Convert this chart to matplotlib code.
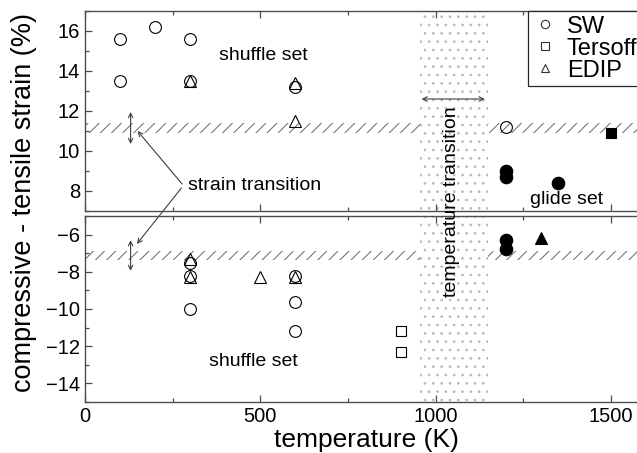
import matplotlib
matplotlib.use('Agg')
import matplotlib.pyplot as plt
from matplotlib.ticker import MultipleLocator
from matplotlib.lines import Line2D

plt.rcParams['font.family'] = ['Liberation Sans', 'DejaVu Sans']
plt.rcParams['hatch.linewidth'] = 0.7

# tensile strain (upper panel)
sw_shuf_T = [100, 100, 200, 300, 300, 600, 1200]
sw_shuf_ten = [15.6, 13.5, 16.2, 15.6, 13.5, 13.2, 11.2]
edip_shuf_T = [300, 600, 600]
edip_shuf_ten = [13.5, 13.4, 11.5]
sw_glide_T = [1200, 1200, 1350]
sw_glide_ten = [9.0, 8.7, 8.4]
ters_glide_T = [1500]
ters_glide_ten = [10.9]

# compressive strain (lower panel)
sw_shuf_Tc = [300, 300, 300, 600, 600, 600]
sw_shuf_com = [-7.5, -8.2, -10.0, -8.2, -9.6, -11.2]
edip_shuf_Tc = [300, 300, 500, 600]
edip_shuf_com = [-7.3, -8.3, -8.3, -8.3]
ters_shuf_Tc = [900, 900]
ters_shuf_com = [-11.2, -12.3]
sw_glide_Tc = [1200, 1200]
sw_glide_com = [-6.3, -6.8]
edip_glide_Tc = [1300]
edip_glide_com = [-6.2]

# transition bands
ten_band = (10.9, 11.4)
com_band = (-7.35, -6.9)
temp_band = (955, 1150)

W, H = 637, 453
fig = plt.figure(figsize=(W / 100, H / 100), dpi=100)
ax1 = fig.add_axes([85 / W, (H - 211) / H, 561 / W, 200 / H])
ax2 = fig.add_axes([85 / W, (H - 402) / H, 561 / W, 186 / H])

spine_col = '0.3'
for ax in (ax1, ax2):
    ax.patch.set_visible(False)
    ax.set_xlim(0, 1600)
    ax.xaxis.set_major_locator(MultipleLocator(500))
    ax.xaxis.set_minor_locator(MultipleLocator(250))
    ax.yaxis.set_major_locator(MultipleLocator(2))
    ax.yaxis.set_minor_locator(MultipleLocator(1))
    ax.tick_params(which='both', direction='in', top=True, right=True,
                   colors=spine_col, labelcolor='black', labelsize=14.5, width=0.9)
    ax.tick_params(which='major', length=5)
    ax.tick_params(which='minor', length=3)
    for s in ax.spines.values():
        s.set_color(spine_col)
        s.set_linewidth(1.0)
    # temperature transition band (stippled)
    ax.axvspan(*temp_band, facecolor='none', edgecolor='0.72', hatch='..', lw=0, zorder=0)

ax1.set_ylim(7, 17)
ax2.set_ylim(-15, -5)
ax1.tick_params(labelbottom=False)

# strain transition bands (hatched), interrupted by the temperature band
for ax, band in ((ax1, ten_band), (ax2, com_band)):
    ax.fill_between([0, temp_band[0]], band[0], band[1], facecolor='none',
                    edgecolor='0.4', hatch='///', lw=0, zorder=0)
    ax.fill_between([temp_band[1], 1600], band[0], band[1], facecolor='none',
                    edgecolor='0.4', hatch='///', lw=0, zorder=0)

mk = dict(ls='none', mec='black', mew=0.8, zorder=3)
ax1.plot(sw_shuf_T, sw_shuf_ten, 'o', ms=8.5, mfc='none', **mk)
ax1.plot(edip_shuf_T, edip_shuf_ten, '^', ms=8, mfc='none', **mk)
ax1.plot(sw_glide_T, sw_glide_ten, 'o', ms=9, mfc='black', **mk)
ax1.plot(ters_glide_T, ters_glide_ten, 's', ms=7.5, mfc='black', **mk)

ax2.plot(sw_shuf_Tc, sw_shuf_com, 'o', ms=8.5, mfc='none', **mk)
ax2.plot(edip_shuf_Tc, edip_shuf_com, '^', ms=8, mfc='none', **mk)
ax2.plot(ters_shuf_Tc, ters_shuf_com, 's', ms=7.5, mfc='none', **mk)
ax2.plot(sw_glide_Tc, sw_glide_com, 'o', ms=9, mfc='black', **mk)
ax2.plot(edip_glide_Tc, edip_glide_com, '^', ms=9, mfc='black', **mk)

arr = dict(arrowstyle='<->', color='0.25', lw=0.8, shrinkA=0, shrinkB=0,
           mutation_scale=8)
ax1.annotate('', xy=(130, 10.35), xytext=(130, 11.95), arrowprops=arr)
ax2.annotate('', xy=(130, -7.95), xytext=(130, -6.3), arrowprops=arr)
ax1.annotate('', xy=(960, 12.6), xytext=(1140, 12.6), arrowprops=arr)

one = dict(arrowstyle='->', color='0.25', lw=0.8, shrinkA=0, shrinkB=0,
           mutation_scale=8)
ax1.text(295, 8.25, 'strain transition', fontsize=14, va='center', ha='left')
ax1.annotate('', xy=(150, 11.0), xytext=(277, 8.35), textcoords='data',
             arrowprops=one)
ax1.annotate('', xy=(148, -6.5), xycoords=ax2.transData, xytext=(275, 8.15),
             textcoords='data', arrowprops=one, annotation_clip=False)

ax1.text(508, 14.8, 'shuffle set', fontsize=14, ha='center', va='center')
ax2.text(480, -12.8, 'shuffle set', fontsize=14, ha='center', va='center')
ax1.text(1374, 7.6, 'glide set', fontsize=14, ha='center', va='center')

fig.text(452 / W, 1 - 202 / H, 'temperature transition', rotation=90,
         fontsize=14, ha='center', va='center')

fig.text(24 / W, 1 - 202 / H, 'compressive - tensile strain (%)', rotation=90,
         fontsize=19.5, ha='center', va='center')
fig.text(366 / W, 1 - 440 / H, 'temperature (K)', fontsize=19,
         ha='center', va='center')

handles = [
    Line2D([], [], marker='o', ls='none', mfc='none', mec='0.2', mew=0.8, ms=6),
    Line2D([], [], marker='s', ls='none', mfc='none', mec='0.2', mew=0.8, ms=5.5),
    Line2D([], [], marker='^', ls='none', mfc='none', mec='0.2', mew=0.8, ms=6),
]
leg = ax1.legend(handles, ['SW', 'Tersoff', 'EDIP'], loc='upper left',
                 bbox_to_anchor=(528 / W, 1 - 11 / H), bbox_transform=fig.transFigure,
                 borderaxespad=0, fancybox=False, framealpha=1, edgecolor='0.15',
                 fontsize=17, handlelength=1.0, handletextpad=0.45,
                 labelspacing=0.0, borderpad=0.2)
leg.get_frame().set_linewidth(0.9)

fig.savefig('out.png', dpi=100)
